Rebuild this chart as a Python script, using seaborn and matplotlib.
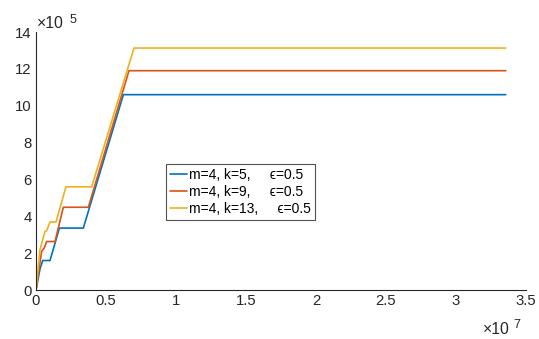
import matplotlib
matplotlib.use("Agg")
import matplotlib.pyplot as plt
import seaborn as sns
import pandas as pd
from matplotlib.ticker import FuncFormatter, MultipleLocator

# Cumulative curves (x in samples, y in counts)
x_k5 = [0, 0.28e6, 0.48e6, 1.0e6, 1.67e6, 3.38e6, 6.24e6, 33554432]
y_k5 = [0, 1.13e5, 1.6e5, 1.6e5, 3.36e5, 3.36e5, 10.6e5, 10.6e5]

x_k9 = [0, 0.4e6, 0.6e6, 0.76e6, 1.36e6, 1.95e6, 3.74e6, 6.64e6, 33554432]
y_k9 = [0, 2.09e5, 2.3e5, 2.63e5, 2.63e5, 4.49e5, 4.49e5, 11.9e5, 11.9e5]

x_k13 = [0, 0.28e6, 0.64e6, 0.75e6, 1.0e6, 1.43e6, 2.14e6, 3.98e6, 7.0e6, 33554432]
y_k13 = [0, 2.18e5, 3.18e5, 3.2e5, 3.69e5, 3.69e5, 5.6e5, 5.6e5, 13.13e5, 13.13e5]

labels = ["m=4, k=5,     \u03f5=0.5",
          "m=4, k=9,     \u03f5=0.5",
          "m=4, k=13,     \u03f5=0.5"]
colors = ["#0072BD", "#D95319", "#EDB120"]

frames = []
for xs, ys, lab in zip([x_k5, x_k9, x_k13], [y_k5, y_k9, y_k13], labels):
    frames.append(pd.DataFrame({"x": xs, "y": ys, "series": lab}))
df = pd.concat(frames, ignore_index=True)

sns.set_style("white")
plt.rcParams["font.family"] = ["Liberation Sans", "DejaVu Sans"]

W, H = 539, 339
fig = plt.figure(figsize=(W / 100, H / 100), dpi=100)
ax = fig.add_axes([36 / W, 1 - 290 / H, 490 / W, 258 / H])

sns.lineplot(data=df, x="x", y="y", hue="series", palette=colors,
             sort=False, estimator=None, linewidth=1.2, ax=ax)

ax.set_xlim(0, 3.5e7)
ax.set_ylim(0, 14e5)
ax.xaxis.set_major_locator(MultipleLocator(0.5e7))
ax.yaxis.set_major_locator(MultipleLocator(2e5))
ax.xaxis.set_major_formatter(FuncFormatter(lambda v, p: f"{v/1e7:g}"))
ax.yaxis.set_major_formatter(FuncFormatter(lambda v, p: f"{v/1e5:g}"))
ax.set_xlabel("")
ax.set_ylabel("")

dark = "#262626"
for side in ["top", "right"]:
    ax.spines[side].set_visible(False)
for side in ["left", "bottom"]:
    ax.spines[side].set_color(dark)
    ax.spines[side].set_linewidth(0.8)
ax.tick_params(direction="in", length=4, width=0.8, colors=dark,
               labelsize=10.7, pad=3)


def px(x, y):
    return x / W, 1 - y / H


# scale multipliers for the axes
fig.text(*px(37, 28.3), "\u00d710", fontsize=11.3, color=dark,
         ha="left", va="baseline")
fig.text(*px(70, 23.3), "5", fontsize=9, color=dark, ha="left",
         va="baseline")
fig.text(*px(483, 334), "\u00d710", fontsize=11.3, color=dark,
         ha="left", va="baseline")
fig.text(*px(513, 328), "7", fontsize=9, color=dark, ha="left",
         va="baseline")

leg = ax.legend(loc="upper left", bbox_to_anchor=(130 / 490, 126 / 258),
                frameon=True, fancybox=False, fontsize=10,
                handlelength=1.2, handletextpad=0.15, borderpad=0.3,
                labelspacing=0.2, borderaxespad=0)
leg.get_frame().set_edgecolor(dark)
leg.get_frame().set_linewidth(0.8)
for t in leg.get_texts():
    t.set_color("black")

fig.savefig("out.png", dpi=100)
